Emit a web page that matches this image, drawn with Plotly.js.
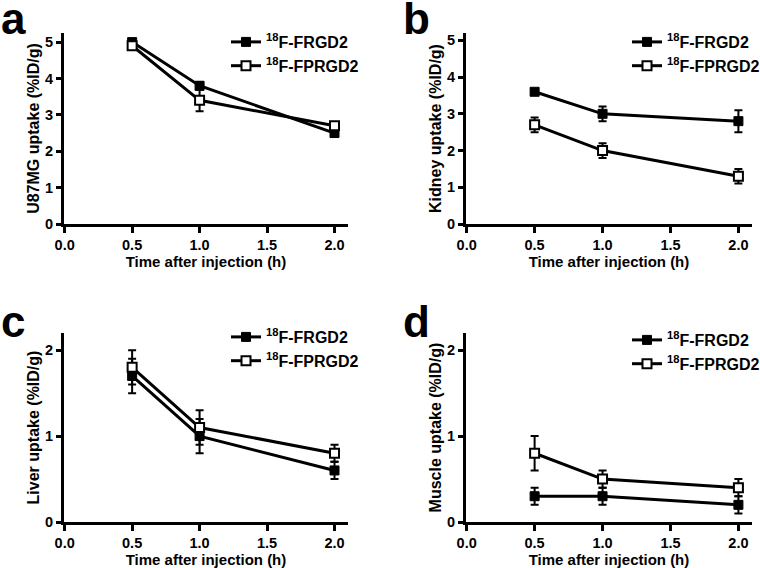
<!DOCTYPE html>
<html>
<head>
<meta charset="utf-8">
<script src="https://cdn.plot.ly/plotly-3.0.1.min.js"></script>
<style>html,body{margin:0;padding:0;background:#fff;}#chart{width:760px;height:568px;}</style>
</head>
<body>
<div id="chart"></div>
<script>
// ---- data ----
const timeHours = [0.5, 1.0, 2.0];
const seriesNames = ['<sup>18</sup>F-FRGD2', '<sup>18</sup>F-FPRGD2'];
const panelLetters = ['a', 'b', 'c', 'd'];
const yTitles = ['U87MG uptake (%ID/g)', 'Kidney uptake (%ID/g)', 'Liver uptake (%ID/g)', 'Muscle uptake (%ID/g)'];
const xTitle = 'Time after injection (h)';

const u87Frgd2 = [5.0, 3.8, 2.5];
const u87Frgd2Err = [0.05, 0.1, 0.05];
const u87Fprgd2 = [4.9, 3.4, 2.7];
const u87Fprgd2Err = [0.05, 0.3, 0.05];

const kidneyFrgd2 = [3.6, 3.0, 2.8];
const kidneyFrgd2Err = [0.05, 0.2, 0.3];
const kidneyFprgd2 = [2.7, 2.0, 1.3];
const kidneyFprgd2Err = [0.2, 0.2, 0.2];

const liverFrgd2 = [1.7, 1.0, 0.6];
const liverFrgd2Err = [0.2, 0.2, 0.1];
const liverFprgd2 = [1.8, 1.1, 0.8];
const liverFprgd2Err = [0.2, 0.2, 0.1];

const muscleFrgd2 = [0.3, 0.3, 0.2];
const muscleFrgd2Err = [0.1, 0.1, 0.1];
const muscleFprgd2 = [0.8, 0.5, 0.4];
const muscleFprgd2Err = [0.2, 0.1, 0.1];

const xTickVals = [0, 0.5, 1.0, 1.5, 2.0];
const xTickText = ['0.0', '0.5', '1.0', '1.5', '2.0'];

// ---- build ----
const FONT = 'Liberation Sans, Arial, Helvetica, sans-serif';
const panels = [
  {f: u87Frgd2, fe: u87Frgd2Err, p: u87Fprgd2, pe: u87Fprgd2Err},
  {f: kidneyFrgd2, fe: kidneyFrgd2Err, p: kidneyFprgd2, pe: kidneyFprgd2Err},
  {f: liverFrgd2, fe: liverFrgd2Err, p: liverFprgd2, pe: liverFprgd2Err},
  {f: muscleFrgd2, fe: muscleFrgd2Err, p: muscleFprgd2, pe: muscleFprgd2Err}
];
const W = 760, H = 568;
// pixel boxes: [left, right, top, bottom]
const boxes = [
  [64, 348, 33, 224],
  [466, 752, 33, 224],
  [64, 348, 333, 522],
  [466, 752, 333, 522]
];
const yRanges = [[0, 5.25], [0, 5.2], [0, 2.2], [0, 2.2]];
const yTicks = [[0,1,2,3,4,5],[0,1,2,3,4,5],[0,1,2],[0,1,2]];
const legendPos = [[226, 25], [627, 25], [226, 320], [627, 323]];

const data = [];
const layout = {
  width: W, height: H,
  margin: {l: 0, r: 0, t: 0, b: 0, autoexpand: false},
  paper_bgcolor: '#fff', plot_bgcolor: 'rgba(0,0,0,0)',
  showlegend: true,
  annotations: [],
  font: {family: FONT, color: '#000'}
};

panels.forEach((pn, i) => {
  const sfx = i === 0 ? '' : String(i + 1);
  const xa = 'x' + sfx, ya = 'y' + sfx;
  const lg = 'legend' + sfx;
  const common = {
    x: timeHours, xaxis: xa, yaxis: ya, mode: 'lines+markers', legend: lg,
    line: {color: '#000', width: 3}, cliponaxis: false
  };
  data.push(Object.assign({}, common, {
    y: pn.f, name: seriesNames[0],
    marker: {symbol: 'square', size: 9, color: '#000', line: {color: '#000', width: 1}},
    error_y: {type: 'data', array: pn.fe, visible: true, color: '#000', thickness: 2, width: 4}
  }));
  data.push(Object.assign({}, common, {
    y: pn.p, name: seriesNames[1],
    marker: {symbol: 'square', size: 9, color: '#fff', line: {color: '#000', width: 2}},
    error_y: {type: 'data', array: pn.pe, visible: true, color: '#000', thickness: 2, width: 4}
  }));
  const b = boxes[i];
  layout['xaxis' + sfx] = {
    domain: [b[0] / W, b[1] / W], anchor: ya, range: [-0.005, 2.1],
    showline: true, linewidth: 3, linecolor: '#000', showgrid: false, zeroline: false,
    ticks: 'outside', ticklen: 6, tickwidth: 3, tickcolor: '#000',
    tickvals: xTickVals, ticktext: xTickText, automargin: false,
    tickfont: {family: FONT, size: 14.5, color: '#000', weight: 'bold'},
    title: {text: xTitle, font: {family: FONT, size: 15, color: '#000', weight: 'bold'}, standoff: 3}
  };
  layout['yaxis' + sfx] = {
    domain: [1 - b[3] / H, 1 - b[2] / H], anchor: xa, range: yRanges[i],
    showline: true, linewidth: 3, linecolor: '#000', showgrid: false, zeroline: false,
    ticks: 'outside', ticklen: 5, tickwidth: 3, tickcolor: '#000',
    tickvals: yTicks[i], automargin: false,
    tickfont: {family: FONT, size: 14.5, color: '#000', weight: 'bold'},
    title: {text: yTitles[i], font: {family: FONT, size: 16, color: '#000', weight: 'bold'}, standoff: 2}
  };
  layout[lg] = {
    x: legendPos[i][0] / W, y: 1 - legendPos[i][1] / H, xanchor: 'left', yanchor: 'top',
    xref: 'paper', yref: 'paper', bgcolor: 'rgba(0,0,0,0)', borderwidth: 0,
    font: {family: FONT, size: 16, color: '#000', weight: 'bold'},
    itemwidth: 30, tracegroupgap: 0
  };
  const lx = [-1, 401, -1, 401][i], ly = [-8, -8, 295, 295][i];
  layout.annotations.push({
    text: panelLetters[i], xref: 'paper', yref: 'paper', x: lx / W, y: 1 - ly / H,
    xanchor: 'left', yanchor: 'top', showarrow: false,
    font: {family: FONT, size: 44, color: '#000', weight: 'bold'}
  });
});

Plotly.newPlot('chart', data, layout, {staticPlot: true, displayModeBar: false});
</script>
</body>
</html>
